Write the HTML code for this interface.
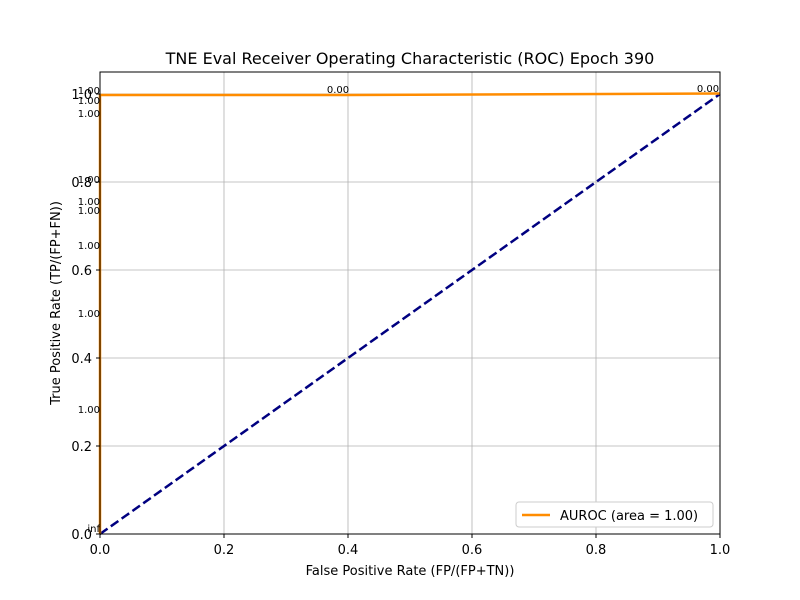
<!DOCTYPE html>
<html><head><style>body{margin:0;background:#fff}svg{display:block;font-family:"DejaVu Sans","Liberation Sans",sans-serif}</style></head><body>
<svg width="800" height="600" viewBox="0 0 800 600" xmlns="http://www.w3.org/2000/svg">
<rect width="800" height="600" fill="#fff"/>
<g stroke="#b0b0b0" stroke-width="0.8">
<line x1="224" y1="72" x2="224" y2="534"/><line x1="348" y1="72" x2="348" y2="534"/><line x1="472" y1="72" x2="472" y2="534"/><line x1="596" y1="72" x2="596" y2="534"/>
<line x1="100" y1="446" x2="720" y2="446"/><line x1="100" y1="358" x2="720" y2="358"/><line x1="100" y1="270" x2="720" y2="270"/><line x1="100" y1="182" x2="720" y2="182"/><line x1="100" y1="94" x2="720" y2="94"/>
</g>
<line x1="100" y1="534" x2="720" y2="94" stroke="#000080" stroke-width="2.5" stroke-dasharray="9.25,4"/>
<polyline points="100,534 100,95 348,95 720,93.5" fill="none" stroke="#ff8c00" stroke-width="2.5"/>
<rect x="100" y="72" width="620" height="462" fill="none" stroke="#000" stroke-width="1"/>
<g stroke="#000"><line x1="100" y1="534" x2="100" y2="538"/><line x1="224" y1="534" x2="224" y2="538"/><line x1="348" y1="534" x2="348" y2="538"/><line x1="472" y1="534" x2="472" y2="538"/><line x1="596" y1="534" x2="596" y2="538"/><line x1="720" y1="534" x2="720" y2="538"/>
<line x1="96" y1="534" x2="100" y2="534"/><line x1="96" y1="446" x2="100" y2="446"/><line x1="96" y1="358" x2="100" y2="358"/><line x1="96" y1="270" x2="100" y2="270"/><line x1="96" y1="182" x2="100" y2="182"/><line x1="96" y1="94" x2="100" y2="94"/></g>
<g font-size="13" text-anchor="middle" fill="#000">
<text x="100" y="554">0.0</text><text x="224" y="554">0.2</text><text x="348" y="554">0.4</text><text x="472" y="554">0.6</text><text x="596" y="554">0.8</text><text x="720" y="554">1.0</text></g>
<g font-size="13" text-anchor="end" fill="#000">
<text x="92" y="539">0.0</text><text x="92" y="451">0.2</text><text x="92" y="363">0.4</text><text x="92" y="275">0.6</text><text x="92" y="187">0.8</text><text x="92" y="99">1.0</text></g>
<g font-size="10" text-anchor="end" fill="#000">
<text x="100" y="94">1.00</text><text x="100" y="104">1.00</text><text x="100" y="117">1.00</text><text x="100" y="183">1.00</text><text x="100" y="205">1.00</text><text x="100" y="214">1.00</text><text x="100" y="249">1.00</text><text x="100" y="317">1.00</text><text x="100" y="413">1.00</text><text x="100" y="532">inf</text></g>
<g font-size="10" text-anchor="middle" fill="#000"><text x="338" y="93">0.00</text><text x="708" y="92">0.00</text></g>
<text x="410" y="64" font-size="16" text-anchor="middle">TNE Eval Receiver Operating Characteristic (ROC) Epoch 390</text>
<text x="410" y="575" font-size="13" text-anchor="middle">False Positive Rate (FP/(FP+TN))</text>
<text transform="translate(60,303) rotate(-90)" font-size="13" text-anchor="middle">True Positive Rate (TP/(FP+FN))</text>
<rect x="516" y="502" width="197" height="25" rx="3" fill="#fff" stroke="#ccc"/>
<line x1="522" y1="515" x2="550" y2="515" stroke="#ff8c00" stroke-width="2.5"/>
<text x="560" y="520" font-size="13">AUROC (area = 1.00)</text>
</svg>
</body></html>
